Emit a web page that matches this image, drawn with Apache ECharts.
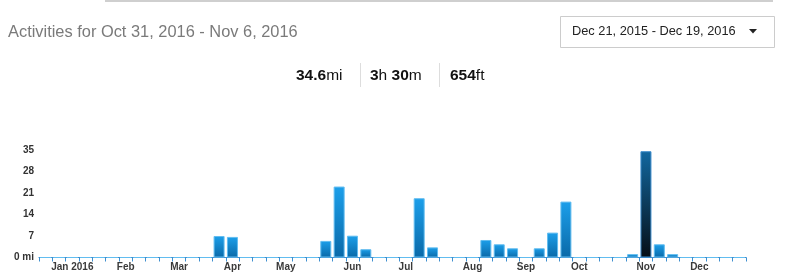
<!DOCTYPE html>
<html>
<head>
<meta charset="utf-8">
<script src="https://cdn.jsdelivr.net/npm/echarts@6/dist/echarts.min.js"></script>
<style>
html,body{margin:0;padding:0;background:#fff;}
#chart{width:800px;height:274px;}
</style>
</head>
<body>
<div id="chart"></div>
<script>
// Weekly categories (week start dates)
const weeks = ['Dec 21','Dec 28','Jan 4','Jan 11','Jan 18','Jan 25','Feb 1','Feb 8','Feb 15','Feb 22',
  'Feb 29','Mar 7','Mar 14','Mar 21','Mar 28','Apr 4','Apr 11','Apr 18','Apr 25','May 2',
  'May 9','May 16','May 23','May 30','Jun 6','Jun 13','Jun 20','Jun 27','Jul 4','Jul 11',
  'Jul 18','Jul 25','Aug 1','Aug 8','Aug 15','Aug 22','Aug 29','Sep 5','Sep 12','Sep 19',
  'Sep 26','Oct 3','Oct 10','Oct 17','Oct 24','Oct 31','Nov 7','Nov 14','Nov 21','Nov 28',
  'Dec 5','Dec 12','Dec 19'];
// Miles per week
const miles = [0,0,0,0,0,0,0,0,0,0,
  0,0,0,7.0,6.7,0,0,0,0,0,
  0,5.4,23.1,7.1,2.7,0,0,0,19.3,3.3,
  0,0,0,5.7,4.3,3.0,0,3.0,8.1,18.2,
  0,0,0,0,1.1,34.6,4.3,1.1,0,0,
  0,0,0];
const selectedWeek = 'Oct 31';
// Month tick labels and the week they sit under
const monthLabelWeeks = ['Jan 4','Feb 1','Feb 29','Mar 28','Apr 25','May 30','Jun 27','Aug 1','Aug 29','Sep 26','Oct 31','Nov 28'];
const monthLabelTexts = ['Jan 2016','Feb','Mar','Apr','May','Jun','Jul','Aug','Sep','Oct','Nov','Dec'];
const yTicks = [0, 7, 14, 21, 28, 35];
const titleText = 'Activities for Oct 31, 2016 - Nov 6, 2016';
const rangeText = 'Dec 21, 2015 - Dec 19, 2016';

const FONT = '"Liberation Sans", Arial, Helvetica, sans-serif';
const normalGrad = new echarts.graphic.LinearGradient(0,0,0,1,[{offset:0,color:'#1c9fea'},{offset:1,color:'#0a69a8'}]);
const selGrad = new echarts.graphic.LinearGradient(0,0,0,1,[{offset:0,color:'#12679f'},{offset:1,color:'#050e16'}]);

const chart = echarts.init(document.getElementById('chart'), null, {renderer:'canvas'});
chart.setOption({
  animation:false,
  grid:{left:39,right:54,top:150,bottom:16.5},
  xAxis:{
    type:'category', data:weeks, boundaryGap:true,
    axisLine:{show:true,lineStyle:{color:'#3f8fcf',width:1.2}},
    axisTick:{show:true,interval:0,length:4,lineStyle:{color:'#3f8fcf',width:1}},
    axisLabel:{interval:0,margin:5,fontFamily:FONT,fontSize:10,fontWeight:'bold',color:'#3a3a3a',
      formatter:function(v){const i=monthLabelWeeks.indexOf(v);return i>=0?monthLabelTexts[i]:'';}},
    splitLine:{show:false}
  },
  yAxis:{
    type:'value', min:yTicks[0], max:yTicks[yTicks.length-1], interval:yTicks[1]-yTicks[0],
    axisLine:{show:false}, axisTick:{show:false}, splitLine:{show:false},
    axisLabel:{margin:5,fontFamily:FONT,fontSize:10,fontWeight:'bold',color:'#333',
      formatter:function(v){return v===0?'0 mi':String(v);}}
  },
  series:[{
    type:'bar', barWidth:11,
    data:miles.map(function(v,i){
      const sel = weeks[i]===selectedWeek;
      return {value:v,itemStyle:{color:sel?selGrad:normalGrad,borderColor:sel?'#3b8ccc':'#62bdf0',borderWidth:1}};
    })
  }],
  graphic:[
    {type:'rect',shape:{x:105,y:0,width:668,height:2},style:{fill:'#cfcfcf'}},
    {type:'text',left:8,top:24,style:{text:titleText,fontFamily:FONT,fontSize:16.4,fill:'#7a7a7a'}},
    {type:'rect',shape:{x:560.5,y:16.5,width:214,height:31},style:{fill:'#fff',stroke:'#cccccc',lineWidth:1}},
    {type:'text',left:572,top:25,style:{text:rangeText,fontFamily:FONT,fontSize:12.8,fill:'#222'}},
    {type:'polygon',shape:{points:[[749,29],[757,29],[753,33.5]]},style:{fill:'#222'}},
    {type:'text',left:296,top:67.5,style:{text:'{b|34.6}{n|mi}',rich:{b:{fontFamily:FONT,fontSize:15.5,fontWeight:'bold',fill:'#111'},n:{fontFamily:FONT,fontSize:15.5,fill:'#111'}}}},
    {type:'rect',shape:{x:360,y:63,width:1,height:24},style:{fill:'#dddddd'}},
    {type:'text',left:370,top:67.5,style:{text:'{b|3}{n|h }{b|30}{n|m}',rich:{b:{fontFamily:FONT,fontSize:15.5,fontWeight:'bold',fill:'#111'},n:{fontFamily:FONT,fontSize:15.5,fill:'#111'}}}},
    {type:'rect',shape:{x:439,y:63,width:1,height:24},style:{fill:'#dddddd'}},
    {type:'text',left:450,top:67.5,style:{text:'{b|654}{n|ft}',rich:{b:{fontFamily:FONT,fontSize:15.5,fontWeight:'bold',fill:'#111'},n:{fontFamily:FONT,fontSize:15.5,fill:'#111'}}}}
  ]
});
</script>
</body>
</html>
